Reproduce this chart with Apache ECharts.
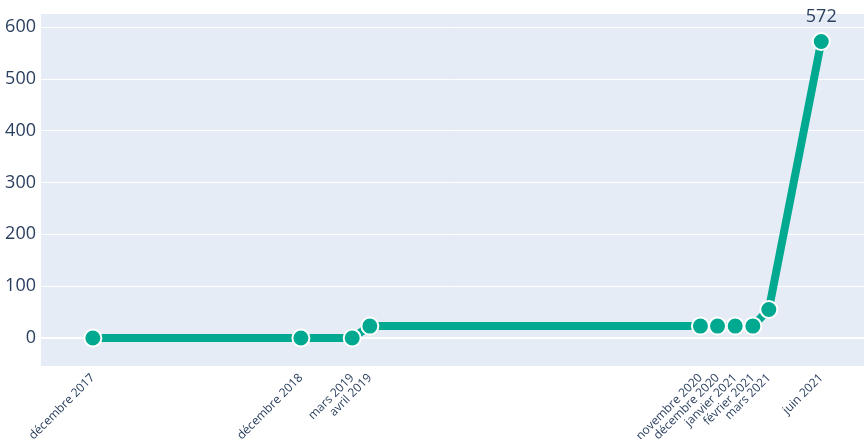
<!DOCTYPE html>
<html>
<head>
<meta charset="utf-8">
<script src="https://cdn.jsdelivr.net/npm/echarts@6/dist/echarts.min.js"></script>
<style>
html, body { margin: 0; padding: 0; background: #fff; }
#chart { width: 864px; height: 439px; }
</style>
</head>
<body>
<div id="chart"></div>
<script>
// dates (1er du mois) et libellés
var dates = ['2017-12-01', '2018-12-01', '2019-03-01', '2019-04-01', '2020-11-01',
             '2020-12-01', '2021-01-01', '2021-02-01', '2021-03-01', '2021-06-01'];
var labels = ['décembre 2017', 'décembre 2018', 'mars 2019', 'avril 2019', 'novembre 2020',
              'décembre 2020', 'janvier 2021', 'février 2021', 'mars 2021', 'juin 2021'];
var values = [0, 0, 0, 23, 23, 23, 23, 23, 55, 572];
var yTicks = [0, 100, 200, 300, 400, 500, 600];

// axe en jours depuis le 1er décembre 2017
var DAY = 86400000;
var t0 = Date.UTC(2017, 11, 1);
var xs = dates.map(function (d) { return Math.round((new Date(d + 'T00:00:00Z').getTime() - t0) / DAY); });
var labelOf = {};
for (var i = 0; i < xs.length; i++) { labelOf[xs[i]] = labels[i]; }
var seriesData = xs.map(function (x, i) { return [x, values[i]]; });

var txt = '#2a3f5f';
var option = {
    animation: false,
    textStyle: { fontFamily: 'Open Sans' },
    grid: {
        left: 41, right: 0, top: 14, bottom: 73,
        outerBoundsMode: 'none', containLabel: false,
        show: true, backgroundColor: '#E5ECF6', borderWidth: 0
    },
    xAxis: {
        type: 'value',
        min: -91,
        max: 1353,
        axisLine: { show: false },
        axisTick: { show: false },
        splitLine: { show: false },
        axisLabel: {
            customValues: xs,
            rotate: 45,
            fontSize: 12,
            color: txt,
            margin: 10,
            formatter: function (v) { return labelOf[v] || ''; }
        }
    },
    yAxis: {
        type: 'value',
        min: -54,
        max: 625,
        axisLine: { show: false },
        axisTick: { show: false },
        splitLine: { show: false },
        axisLabel: {
            customValues: yTicks,
            fontSize: 18,
            color: txt,
            margin: 5
        }
    },
    series: [{
        type: 'line',
        data: seriesData,
        symbol: 'circle',
        symbolSize: 17,
        lineStyle: { color: '#00A98F', width: 8 },
        itemStyle: { color: '#00A98F', borderColor: '#fff', borderWidth: 2 },
        label: {
            show: true,
            position: 'top',
            fontSize: 18,
            color: txt,
            distance: 6,
            formatter: function (p) { return p.dataIndex === values.length - 1 ? String(p.value[1]) : ''; }
        },
        markLine: {
            silent: true,
            symbol: 'none',
            label: { show: false },
            lineStyle: { color: '#ffffff', type: 'solid', width: 1 },
            z: 1,
            data: yTicks.map(function (v) { return { yAxis: v, lineStyle: { width: v === 0 ? 2 : 1 } }; })
        },
        z: 3
    }]
};

var chart = echarts.init(document.getElementById('chart'));
chart.setOption(option);
</script>
</body>
</html>
